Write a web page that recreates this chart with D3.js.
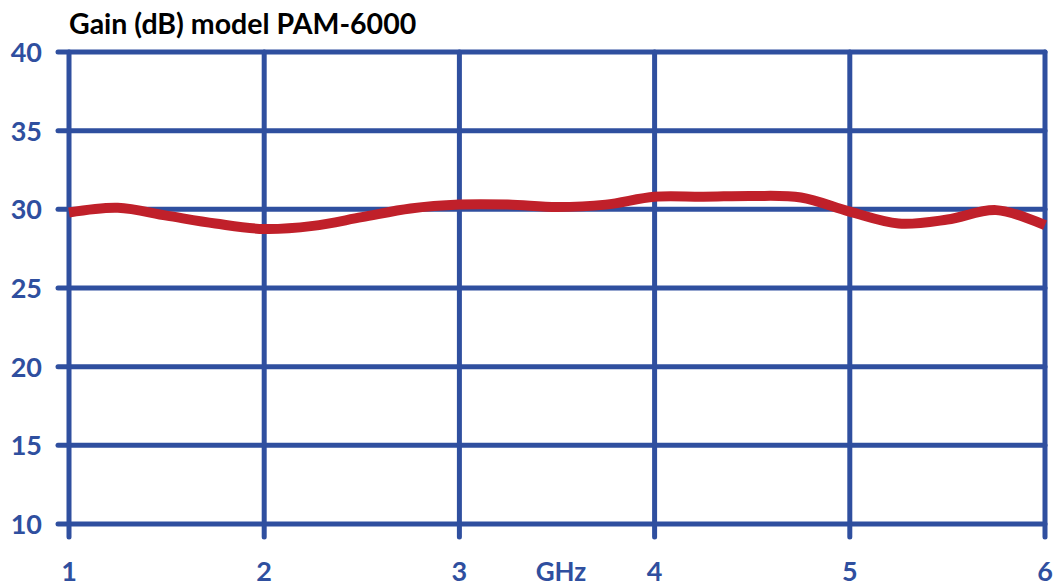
<!DOCTYPE html>
<html>
<head>
<meta charset="utf-8">
<script src="https://cdn.jsdelivr.net/npm/d3@7"></script>
<style>
    body { margin: 0; background: #fff; }
    text { font-family: Lato, "Open Sans", sans-serif; font-weight: bold; }
</style>
</head>
<body>
<div id="chart"></div>
<script>
// Gain curve for PAM-6000

const freqGHz = [1, 1.25, 1.5, 1.75, 2, 2.25, 2.5, 2.75, 3, 3.25, 3.5, 3.75, 4, 4.25, 4.5, 4.75, 5, 5.25, 5.5, 5.75, 6];
const gainDb  = [29.8, 30.1, 29.6, 29.1, 28.75, 28.95, 29.5, 30.05, 30.3, 30.3, 30.15, 30.3, 30.8, 30.8, 30.85, 30.75, 29.85, 29.1, 29.35, 29.95, 29.0];

const xTicks = [1, 2, 3, 4, 5, 6];
const yTicks = [10, 15, 20, 25, 30, 35, 40];
const title = "Gain (dB) model PAM-6000";
const xUnit = "GHz";

let width = 1055,
    height = 587,
    plotLeft = 69,
    plotRight = 1045,
    plotTop = 52,
    plotBottom = 524,
    gridColor = "#2f4f9f",
    lineColor = "#c0202a";

let svg = d3.select("#chart")
    .append("svg")
        .attr("width", width)
        .attr("height", height);

// scales
// ------------------------------------------------------

let xScale = d3.scaleLinear()
    .domain([1, 6])
    .range([plotLeft, plotRight]);

let yScale = d3.scaleLinear()
    .domain([10, 40])
    .range([plotBottom, plotTop]);

// grid
// ------------------------------------------------------

let grid = svg.append("g")
    .attr("stroke", gridColor)
    .attr("stroke-width", 5)
    .attr("stroke-linecap", "round");

grid.selectAll(".hline")
    .data(yTicks)
    .enter()
    .append("line")
        .attr("class", "hline")
        .attr("x1", plotLeft - 11)
        .attr("x2", plotRight)
        .attr("y1", d => yScale(d))
        .attr("y2", d => yScale(d));

grid.selectAll(".vline")
    .data(xTicks)
    .enter()
    .append("line")
        .attr("class", "vline")
        .attr("x1", d => xScale(d))
        .attr("x2", d => xScale(d))
        .attr("y1", plotTop)
        .attr("y2", plotBottom + 13);

// axis labels
// ------------------------------------------------------

svg.selectAll(".ylabel")
    .data(yTicks)
    .enter()
    .append("text")
        .attr("class", "ylabel")
        .attr("x", 42)
        .attr("y", d => yScale(d) + 10)
        .attr("text-anchor", "end")
        .attr("fill", gridColor)
        .attr("font-size", 27)
        .text(d => d);

svg.selectAll(".xlabel")
    .data(xTicks)
    .enter()
    .append("text")
        .attr("class", "xlabel")
        .attr("x", d => xScale(d))
        .attr("y", 581)
        .attr("text-anchor", "middle")
        .attr("fill", gridColor)
        .attr("font-size", 27)
        .text(d => d);

svg.append("text")
    .attr("x", 561)
    .attr("y", 581)
    .attr("text-anchor", "middle")
    .attr("fill", gridColor)
    .attr("font-size", 26)
    .text(xUnit);

svg.append("text")
    .attr("x", 69)
    .attr("y", 34)
    .attr("fill", "#000")
    .attr("font-size", 28.5)
    .text(title);

// gain curve
// ------------------------------------------------------

let line = d3.line()
    .x((d, i) => xScale(freqGHz[i]))
    .y(d => yScale(d))
    .curve(d3.curveCatmullRom);

svg.append("path")
    .datum(gainDb)
    .attr("d", line)
    .attr("fill", "none")
    .attr("stroke", lineColor)
    .attr("stroke-width", 10);
</script>
</body>
</html>
